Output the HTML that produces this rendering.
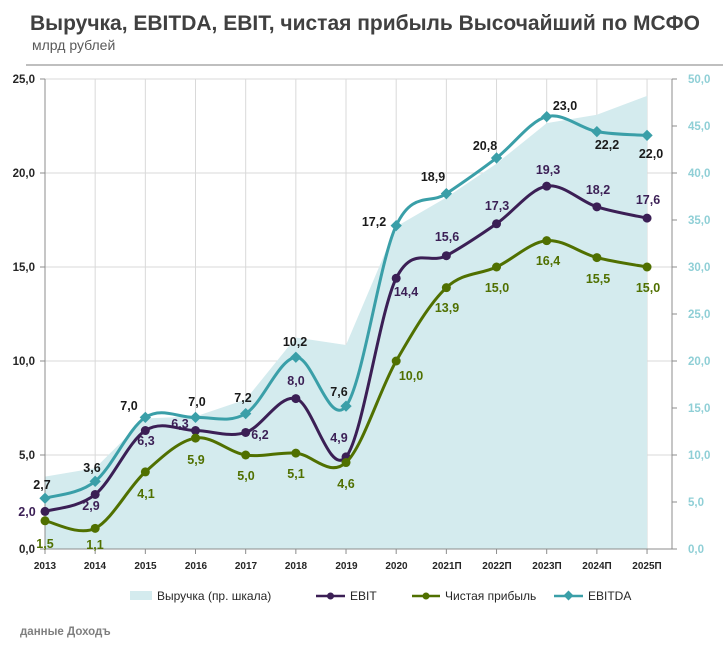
<!DOCTYPE html>
<html><head><meta charset="utf-8"><style>
body{margin:0;background:#fff;width:725px;height:647px;overflow:hidden;font-family:"Liberation Sans",sans-serif}
svg text{font-family:"Liberation Sans",sans-serif}
</style></head><body>
<svg id="s" width="725" height="647" xmlns="http://www.w3.org/2000/svg">
<text x="30" y="30" font-size="21" font-weight="bold" fill="#404040">Выручка, EBITDA, EBIT, чистая прибыль Высочайший по МСФО</text>
<text x="32" y="50" font-size="14" fill="#595959">млрд рублей</text>
<line x1="26" y1="65" x2="723" y2="65" stroke="#bfbfbf" stroke-width="2"/>
<g id="grid" stroke="#d9d9d9" stroke-width="1"></g>
<path id="area" fill="#d4ebee"/>
<line x1="45" y1="79" x2="45" y2="549" stroke="#8c8c8c"/>
<line x1="672" y1="79" x2="672" y2="549" stroke="#8c8c8c"/>
<line x1="45" y1="549" x2="672" y2="549" stroke="#8c8c8c"/>
<g id="ticks" stroke="#8c8c8c"></g>
<g font-size="11.5" font-weight="bold" fill="#262626" text-anchor="end">
<text x="35" y="553">0,0</text><text x="35" y="459">5,0</text><text x="35" y="365">10,0</text><text x="35" y="271">15,0</text><text x="35" y="177">20,0</text><text x="35" y="83">25,0</text>
</g>
<g font-size="11.5" font-weight="bold" fill="#8fcfd6">
<text x="688" y="553">0,0</text><text x="688" y="506">5,0</text><text x="688" y="459">10,0</text><text x="688" y="412">15,0</text><text x="688" y="365">20,0</text><text x="688" y="318">25,0</text><text x="688" y="271">30,0</text><text x="688" y="224">35,0</text><text x="688" y="177">40,0</text><text x="688" y="130">45,0</text><text x="688" y="83">50,0</text>
</g>
<g font-size="10" font-weight="bold" fill="#262626" text-anchor="middle">
<text x="45" y="569">2013</text><text x="95" y="569">2014</text><text x="145.5" y="569">2015</text><text x="196" y="569">2016</text><text x="246" y="569">2017</text><text x="296" y="569">2018</text><text x="346.5" y="569">2019</text><text x="396.5" y="569">2020</text><text x="447" y="569">2021П</text><text x="497" y="569">2022П</text><text x="547" y="569">2023П</text><text x="597" y="569">2024П</text><text x="647" y="569">2025П</text>
</g>
<g id="lines"></g>
<g font-size="12.5" font-weight="bold" text-anchor="middle" dominant-baseline="central">
<g fill="#1a1a1a">
<text x="42" y="485">2,7</text><text x="92" y="468">3,6</text><text x="129" y="406">7,0</text><text x="197" y="402">7,0</text><text x="243" y="398">7,2</text><text x="295" y="342">10,2</text><text x="339" y="392">7,6</text><text x="374" y="222">17,2</text><text x="433" y="177">18,9</text><text x="485" y="146">20,8</text><text x="565" y="106">23,0</text><text x="607" y="145">22,2</text><text x="651" y="154">22,0</text>
</g>
<g fill="#3b1f55">
<text x="27" y="512">2,0</text><text x="91" y="506">2,9</text><text x="146" y="441">6,3</text><text x="180" y="424">6,3</text><text x="260" y="435">6,2</text><text x="296" y="381">8,0</text><text x="339" y="438">4,9</text><text x="406" y="292">14,4</text><text x="447" y="237">15,6</text><text x="497" y="206">17,3</text><text x="548" y="170">19,3</text><text x="598" y="190">18,2</text><text x="648" y="200">17,6</text>
</g>
<g fill="#507000">
<text x="45" y="544">1,5</text><text x="95" y="545">1,1</text><text x="146" y="494">4,1</text><text x="196" y="460">5,9</text><text x="246" y="476">5,0</text><text x="296" y="474">5,1</text><text x="346" y="484">4,6</text><text x="411" y="376">10,0</text><text x="447" y="308">13,9</text><text x="497" y="288">15,0</text><text x="548" y="261">16,4</text><text x="598" y="279">15,5</text><text x="648" y="288">15,0</text>
</g>
</g>
<g font-size="12" fill="#262626">
<rect x="130" y="591" width="22" height="9" fill="#d4ebee"/>
<text x="157" y="600">Выручка (пр. шкала)</text>
<line x1="316" y1="596" x2="345" y2="596" stroke="#3b1f55" stroke-width="2.5"/><circle cx="330.5" cy="596" r="3.5" fill="#3b1f55"/>
<text x="350" y="600">EBIT</text>
<line x1="412" y1="596" x2="440" y2="596" stroke="#507000" stroke-width="2.5"/><circle cx="426" cy="596" r="3.5" fill="#507000"/>
<text x="445" y="600">Чистая прибыль</text>
<line x1="554" y1="596" x2="583" y2="596" stroke="#3a9fa8" stroke-width="2.5"/><rect x="565" y="592" width="7" height="7" fill="#3a9fa8" transform="rotate(45 568.5 595.5)"/>
<text x="588" y="600">EBITDA</text>
</g>
<text x="20" y="635" font-size="11.5" font-weight="bold" fill="#7f7f7f">данные Доходъ</text>
</svg>
<script>
var X=[];for(var i=0;i<13;i++)X.push(45+i*50.17);
function yl(v){return 549-v*18.8}function yr(v){return 549-v*9.4}
var g=document.getElementById('grid'),t=document.getElementById('ticks'),ns="http://www.w3.org/2000/svg";
function L(p,a,b,c,d){var l=document.createElementNS(ns,'line');l.setAttribute('x1',a);l.setAttribute('y1',b);l.setAttribute('x2',c);l.setAttribute('y2',d);p.appendChild(l)}
for(var k=1;k<=5;k++)L(g,45,yl(k*5),672,yl(k*5));
for(var i=0;i<13;i++){L(g,X[i],79,X[i],549);L(t,X[i],549,X[i],554)}
for(var k=0;k<=10;k++)L(t,672,yr(k*5),677,yr(k*5));
for(var k=0;k<=5;k++)L(t,40,yl(k*5),45,yl(k*5));
var rev=[7.7,8.6,13.9,14.1,15.9,22.5,21.7,34.3,37.4,41,45.3,46.2,48.2];
var d='M45,549';for(i=0;i<13;i++)d+=' L'+X[i]+','+yr(rev[i]);d+=' L'+X[12]+',549Z';
document.getElementById('area').setAttribute('d',d);
function smooth(P){var s='M'+P[0][0]+','+P[0][1];for(var i=0;i<P.length-1;i++){var p0=P[i-1]||P[i],p1=P[i],p2=P[i+1],p3=P[i+2]||P[i+1];var f=1/6;
s+=' C'+(p1[0]+(p2[0]-p0[0])*f)+','+(p1[1]+(p2[1]-p0[1])*f)+' '+(p2[0]-(p3[0]-p1[0])*f)+','+(p2[1]-(p3[1]-p1[1])*f)+' '+p2[0]+','+p2[1]}return s}
var S=[[[2.0,2.9,6.3,6.3,6.2,8.0,4.9,14.4,15.6,17.3,19.3,18.2,17.6],'#3b1f55',0],
[[1.5,1.1,4.1,5.9,5.0,5.1,4.6,10.0,13.9,15.0,16.4,15.5,15.0],'#507000',0],
[[2.7,3.6,7.0,7.0,7.2,10.2,7.6,17.2,18.9,20.8,23.0,22.2,22.0],'#3a9fa8',1]];
var G=document.getElementById('lines'),h='';
S.forEach(function(s){var P=s[0].map(function(v,i){return[X[i],yl(v)]});
h+='<path d="'+smooth(P)+'" fill="none" stroke="'+s[1]+'" stroke-width="3"/>';
P.forEach(function(p){if(s[2])h+='<rect x="'+(p[0]-4)+'" y="'+(p[1]-4)+'" width="8" height="8" fill="'+s[1]+'" transform="rotate(45 '+p[0]+' '+p[1]+')"/>';else h+='<circle cx="'+p[0]+'" cy="'+p[1]+'" r="4.5" fill="'+s[1]+'"/>'})});
G.innerHTML=h;
</script>
</body></html>
